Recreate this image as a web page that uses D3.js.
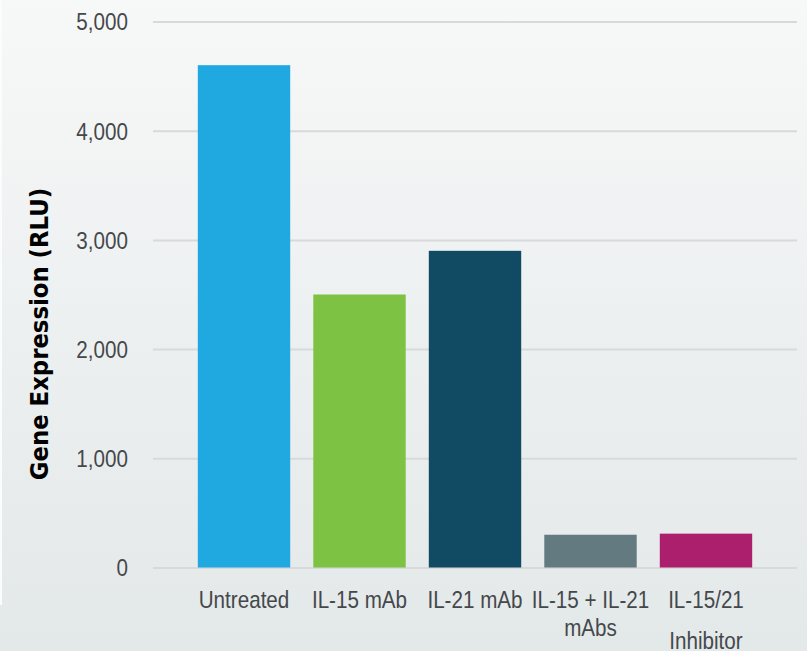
<!DOCTYPE html>
<html>
<head>
<meta charset="utf-8">
<script src="https://cdn.jsdelivr.net/npm/d3@7"></script>
<style>
  html, body { margin: 0; padding: 0; background: #ffffff; }
  svg { display: block; }
</style>
</head>
<body>
<svg id="chart" width="807" height="651"></svg>
<script>
// Treatment groups and their measured luciferase signal
const categories = ["Untreated", "IL-15 mAb", "IL-21 mAb", "IL-15 + IL-21 mAbs", "IL-15/21 Inhibitor"];
const labelLines = [["Untreated"], ["IL-15 mAb"], ["IL-21 mAb"], ["IL-15 + IL-21", "mAbs"], ["IL-15/21", "Inhibitor"]];
const values = [4600, 2500, 2900, 300, 310];
const barColors = ["#1fa9e0", "#7dc243", "#114a63", "#627a80", "#ac1f6c"];
const yTicks = [0, 1000, 2000, 3000, 4000, 5000];
const yTitle = "Gene Expression (RLU)";

const W = 807, H = 651;
const plot = { left: 153, right: 797, top: 21.5, bottom: 567.5 };
const textSX = 0.86; // horizontal condensing applied to axis text

const svg = d3.select("#chart");

// soft vertical background wash
const defs = svg.append("defs");
const grad = defs.append("linearGradient")
  .attr("id", "bg").attr("x1", 0).attr("y1", 0).attr("x2", 0).attr("y2", 1);
grad.append("stop").attr("offset", "0%").attr("stop-color", "#f7f8f8");
grad.append("stop").attr("offset", "100%").attr("stop-color", "#e3e8e9");
svg.append("rect").attr("width", W).attr("height", H).attr("fill", "url(#bg)");
svg.append("rect").attr("x", 0).attr("y", 0).attr("width", 2).attr("height", 605).attr("fill", "#fbfcfc");

const x = d3.scaleBand()
  .domain(categories)
  .range([plot.left, plot.right])
  .paddingInner(0.2)
  .paddingOuter(0.388);

const y = d3.scaleLinear()
  .domain([0, 5000])
  .range([plot.bottom, plot.top]);

// gridlines + tick labels
const yAxis = svg.append("g")
  .attr("transform", `translate(${plot.left},0)`)
  .call(d3.axisLeft(y).tickValues(yTicks).tickFormat(d3.format(",")).tickSize(-(plot.right - plot.left)).tickPadding(0));
yAxis.select(".domain").remove();
yAxis.selectAll(".tick line")
  .attr("stroke", "#d8d9da").attr("stroke-width", 2);
yAxis.selectAll(".tick text")
  .attr("x", 0).attr("dy", "0.35em")
  .attr("transform", `translate(-25,0) scale(${textSX},1)`)
  .attr("text-anchor", "end")
  .attr("fill", "#45484b")
  .style("font-family", "'Liberation Sans', Arial, sans-serif")
  .style("font-size", "24px");

// bars
svg.append("g").selectAll("rect")
  .data(categories)
  .join("rect")
  .attr("x", d => x(d))
  .attr("width", x.bandwidth())
  .attr("y", (d, i) => y(values[i]))
  .attr("height", (d, i) => y(0) - y(values[i]))
  .attr("fill", (d, i) => barColors[i]);

// category labels
const lineGap = [[0], [0], [0], [0, 28], [0, 41]];
const xl = svg.append("g");
categories.forEach((c, i) => {
  const g = xl.append("g")
    .attr("transform", `translate(${x(c) + x.bandwidth() / 2},608) scale(${textSX},1)`);
  labelLines[i].forEach((t, j) => {
    g.append("text")
      .attr("x", 0).attr("y", lineGap[i][j])
      .attr("text-anchor", "middle")
      .attr("fill", "#45484b")
      .style("font-family", "'Liberation Sans', Arial, sans-serif")
      .style("font-size", "24px")
      .text(t);
  });
});

// y-axis title
svg.append("text")
  .attr("transform", `translate(48,334) rotate(-90) scale(0.95,1)`)
  .attr("text-anchor", "middle")
  .attr("fill", "#000")
  .style("font-family", "'DejaVu Sans', Verdana, sans-serif")
  .style("font-weight", "bold")
  .style("font-size", "24px")
  .text(yTitle);
</script>
</body>
</html>
